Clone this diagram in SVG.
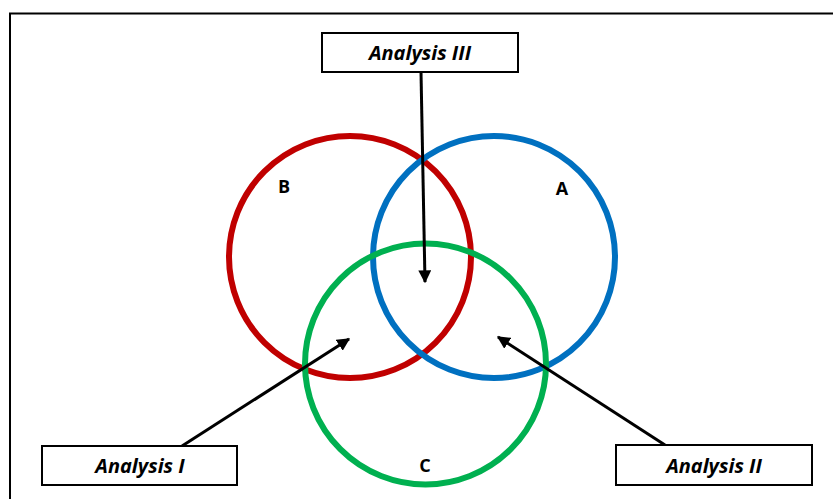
<svg xmlns="http://www.w3.org/2000/svg" width="833" height="499" viewBox="0 0 833 499">
<defs>
<style>
.ring{fill:none;stroke-width:6}
.box{fill:#fff;stroke:#000;stroke-width:2}
.lbl{font-family:"Open Sans","Liberation Sans",sans-serif;font-weight:bold;font-style:italic;font-size:20px;fill:#000;text-anchor:middle}
.set{font-family:"Open Sans","Liberation Sans",sans-serif;font-weight:bold;font-size:18px;fill:#000;text-anchor:middle}
.conn{stroke:#000;stroke-width:3;fill:none}
</style>
<marker id="ah" viewBox="0 0 10 10" refX="9" refY="5" markerWidth="4.3" markerHeight="4.3" orient="auto" markerUnits="strokeWidth">
<path d="M0,0 L10,5 L0,10 z" fill="#000"/>
</marker>
</defs>
<rect width="833" height="499" fill="#fff"/>
<path d="M10,499 V13.5 H833" fill="none" stroke="#000" stroke-width="2"/>
<g id="setB"><circle class="ring" cx="350" cy="257" r="121" stroke="#C00000"/><text class="set" x="284" y="193">B</text></g>
<g id="setA"><circle class="ring" cx="494" cy="257" r="121" stroke="#0070C0"/><text class="set" x="562" y="195">A</text></g>
<g id="setC"><circle class="ring" cx="425.5" cy="364" r="120.5" stroke="#00B050"/><text class="set" x="425" y="472">C</text></g>
<g id="connectors">
<line class="conn" x1="421" y1="72" x2="425" y2="282" marker-end="url(#ah)"/>
<line class="conn" x1="182" y1="446" x2="349" y2="339" marker-end="url(#ah)"/>
<line class="conn" x1="665" y1="445" x2="498" y2="337" marker-end="url(#ah)"/>
</g>
<g id="analysis3"><rect class="box" x="322" y="33" width="196" height="39"/><text class="lbl" x="420" y="60">Analysis III</text></g>
<g id="analysis1"><rect class="box" x="42" y="446" width="195" height="39"/><text class="lbl" x="140" y="473">Analysis I</text></g>
<g id="analysis2"><rect class="box" x="616" y="445" width="196" height="40"/><text class="lbl" x="714" y="473">Analysis II</text></g>
</svg>
